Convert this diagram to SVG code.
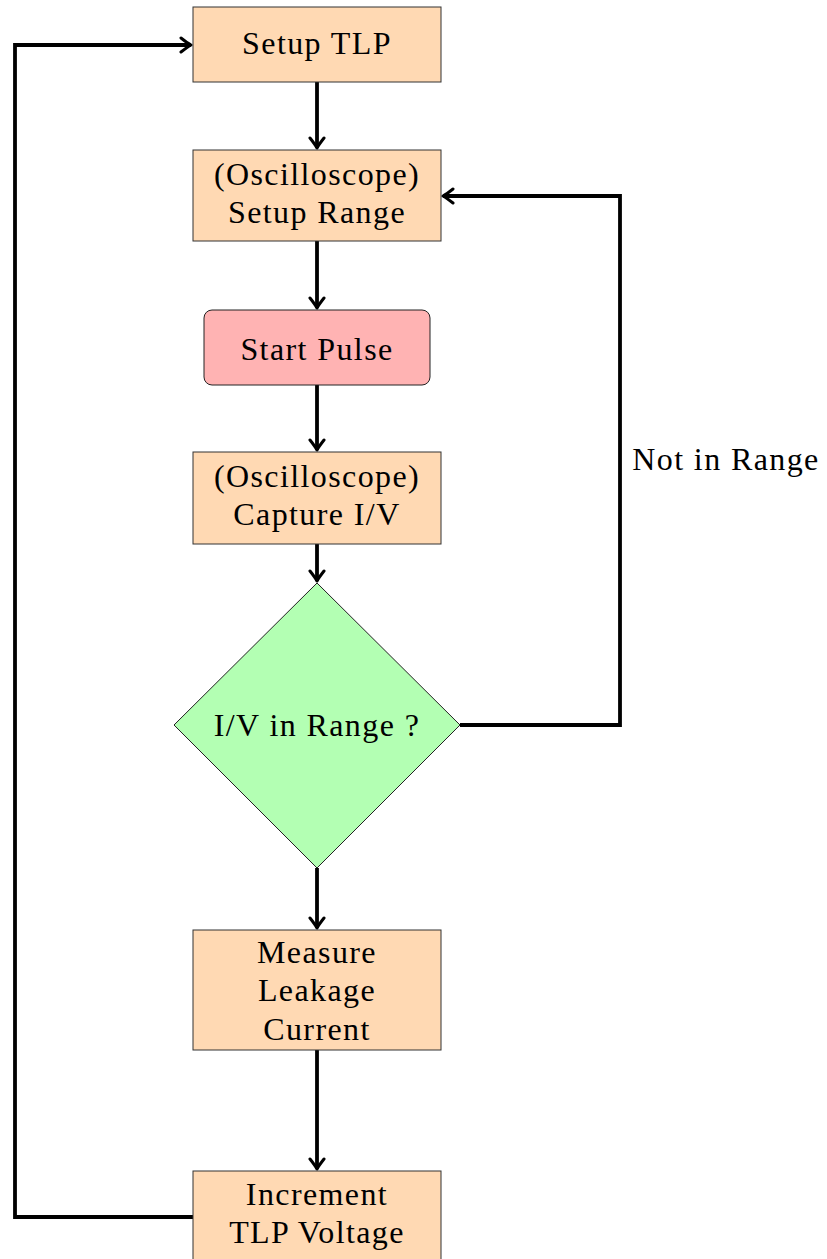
<svg xmlns="http://www.w3.org/2000/svg" width="827" height="1259" viewBox="0 0 827 1259">
<style>
.box{fill:#FFD9B3;stroke:#333;stroke-width:1}
.start{fill:#FFB3B3;stroke:#222;stroke-width:1}
.dec{fill:#B3FFB3;stroke:#222;stroke-width:1}
text{font-family:"Liberation Serif","Times New Roman",serif;font-size:32px;fill:#000;text-anchor:middle;letter-spacing:1.4px}
.conn path{fill:none;stroke:#000;stroke-width:3.8;stroke-linejoin:miter}
</style>
<defs>
<marker id="arr" markerUnits="userSpaceOnUse" viewBox="-12 -9 14 18" refX="0" refY="0" markerWidth="14" markerHeight="18" orient="auto">
<path d="M-10,-7 Q-3,-1.5 0,0 Q-3,1.5 -10,7" fill="none" stroke="#000" stroke-width="3" stroke-linecap="round" stroke-linejoin="round"/>
</marker>
</defs>
<rect width="827" height="1259" fill="#fff"/>
<g class="conn" id="connectors">
<path d="M317,82 V148" marker-end="url(#arr)"/>
<path d="M317,241 V308" marker-end="url(#arr)"/>
<path d="M317,385 V450" marker-end="url(#arr)"/>
<path d="M317,544 V581" marker-end="url(#arr)"/>
<path d="M317,868 V928" marker-end="url(#arr)"/>
<path d="M317,1050 V1169" marker-end="url(#arr)"/>
<path d="M193,1217 H15 V45 H191" marker-end="url(#arr)"/>
<path d="M460,725 H620 V196 H443" marker-end="url(#arr)"/>
</g>
<g id="setup-tlp">
<rect class="box" x="193" y="7" width="248" height="75"/>
<text x="317" y="54">Setup TLP</text>
</g>
<g id="setup-range">
<rect class="box" x="193" y="150" width="248" height="91"/>
<text x="317" y="185">(Oscilloscope)</text>
<text x="317" y="223">Setup Range</text>
</g>
<g id="start-pulse">
<rect class="start" x="204" y="310" width="226" height="75" rx="8"/>
<text x="317" y="360">Start Pulse</text>
</g>
<g id="capture">
<rect class="box" x="193" y="452" width="248" height="92"/>
<text x="317" y="487">(Oscilloscope)</text>
<text x="317" y="525">Capture I/V</text>
</g>
<g id="decision">
<polygon class="dec" points="317,583 460,725 317,868 174,725"/>
<text x="317" y="736">I/V in Range ?</text>
</g>
<g id="measure">
<rect class="box" x="193" y="930" width="248" height="120"/>
<text x="317" y="963">Measure</text>
<text x="317" y="1001">Leakage</text>
<text x="317" y="1040">Current</text>
</g>
<g id="increment">
<rect class="box" x="193" y="1171" width="248" height="100"/>
<text x="317" y="1205">Increment</text>
<text x="317" y="1243">TLP Voltage</text>
</g>
<g id="label">
<text x="726" y="470">Not in Range</text>
</g>
</svg>
